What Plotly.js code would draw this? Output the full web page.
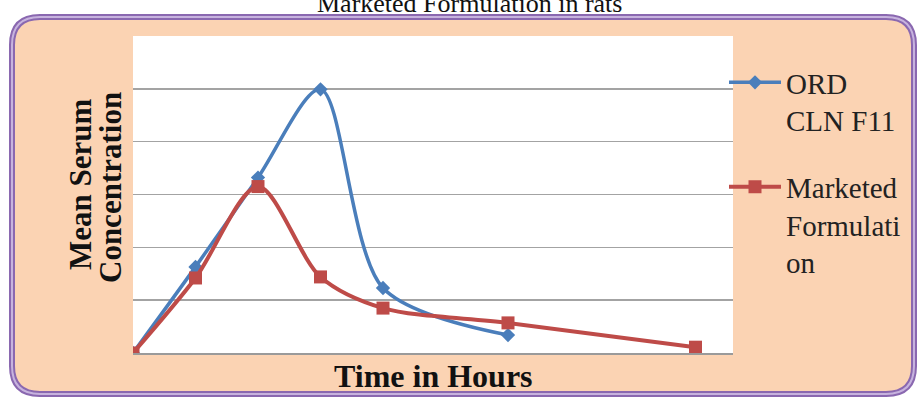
<!DOCTYPE html>
<html>
<head>
<meta charset="utf-8">
<script src="https://cdn.plot.ly/plotly-3.0.1.min.js"></script>
<style>
  html, body { margin: 0; padding: 0; background: #ffffff; }
  #chart { width: 920px; height: 397px; }
  /* keep the legend entries in the same serif face as the rest of the chart */
  #chart .legendtext, #chart .legendtext tspan {
    font-family: "Liberation Serif", "Times New Roman", serif !important;
  }
</style>
</head>
<body>
<div id="chart"></div>
<script>
// Sampling times (hours) and mean serum concentrations
const hoursOrd = [0, 1, 2, 3, 4, 6];
const ordCln = [0, 1.63, 3.32, 4.99, 1.23, 0.34];
const hoursMarketed = [0, 1, 2, 3, 4, 6, 9];
const marketed = [0, 1.42, 3.15, 1.44, 0.85, 0.57, 0.11];
const seriesNames = ['ORD<br>CLN F11', 'Marketed<br>Formulati<br>on'];
const chartTitle = 'Marketed Formulation in rats';
const xTitle = 'Time in Hours';
const yTitleLines = ['Mean Serum', 'Concentration'];

const W = 920, H = 397;
const M = { l: 133, r: 187, t: 36, b: 44 };
const PW = W - M.l - M.r, PH = H - M.t - M.b;

// pixel -> paper helpers for the framing shapes and free text
const px = x => +((x - M.l) / PW).toFixed(5);
const py = y => +((H - M.b - y) / PH).toFixed(5);

function roundedRect(L, T, R, B, r) {
  return 'M' + px(L + r) + ',' + py(T) +
    ' L' + px(R - r) + ',' + py(T) +
    ' Q' + px(R) + ',' + py(T) + ' ' + px(R) + ',' + py(T + r) +
    ' L' + px(R) + ',' + py(B - r) +
    ' Q' + px(R) + ',' + py(B) + ' ' + px(R - r) + ',' + py(B) +
    ' L' + px(L + r) + ',' + py(B) +
    ' Q' + px(L) + ',' + py(B) + ' ' + px(L) + ',' + py(B - r) +
    ' L' + px(L) + ',' + py(T + r) +
    ' Q' + px(L) + ',' + py(T) + ' ' + px(L + r) + ',' + py(T) + ' Z';
}

const framePath = roundedRect(12, 17, 914, 394, 28);

const serif = 'Times New Roman';

const traces = [
  {
    x: hoursOrd, y: ordCln, name: seriesNames[0],
    type: 'scatter', mode: 'lines+markers',
    line: { color: '#4A7EBB', width: 3.5, shape: 'spline', smoothing: 0.85 },
    marker: { symbol: 'diamond', size: 11, color: '#4A7EBB' },
    legendgroup: 'a'
  },
  {
    x: hoursMarketed, y: marketed, name: seriesNames[1],
    type: 'scatter', mode: 'lines+markers',
    line: { color: '#BE4B48', width: 4, shape: 'spline', smoothing: 0.85 },
    marker: { symbol: 'square', size: 13, color: '#BE4B48' },
    legendgroup: 'b'
  }
];

const layout = {
  width: W, height: H,
  margin: M,
  paper_bgcolor: '#ffffff',
  plot_bgcolor: '#ffffff',
  font: { family: serif, color: '#1a1a1a' },
  xaxis: {
    range: [0, 9.6], showticklabels: false, ticks: '',
    showgrid: false, zeroline: false,
    showline: true, linecolor: '#9a9a9a', linewidth: 1.5
  },
  yaxis: {
    range: [0, 6], dtick: 1, showticklabels: false, ticks: '',
    showgrid: true, gridcolor: '#a3a3a3', gridwidth: 1.5,
    zeroline: false, showline: false
  },
  showlegend: true,
  legend: {
    x: px(724), xanchor: 'left', y: py(57), yanchor: 'top',
    bgcolor: 'rgba(0,0,0,0)', valign: 'top',
    font: { family: serif, size: 29, color: '#222222' },
    tracegroupgap: 26, itemwidth: 52
  },
  annotations: [
    {
      text: chartTitle, xref: 'paper', yref: 'paper',
      x: px(469), y: py(3), xanchor: 'center', yanchor: 'middle',
      showarrow: false, font: { family: serif, size: 26, color: '#111111' }
    },
    {
      text: '<b>' + xTitle + '</b>', xref: 'paper', yref: 'paper',
      x: px(433), y: py(376), xanchor: 'center', yanchor: 'middle',
      showarrow: false, font: { family: serif, size: 32, color: '#111111' }
    },
    {
      text: '<b>' + yTitleLines[0] + '</b>', xref: 'paper', yref: 'paper',
      x: px(80), y: py(184), xanchor: 'center', yanchor: 'middle',
      textangle: -90, showarrow: false,
      font: { family: serif, size: 31, color: '#111111' }
    },
    {
      text: '<b>' + yTitleLines[1] + '</b>', xref: 'paper', yref: 'paper',
      x: px(110), y: py(188), xanchor: 'center', yanchor: 'middle',
      textangle: -90, showarrow: false,
      font: { family: serif, size: 31, color: '#111111' }
    }
  ],
  shapes: [
    // peach panel with purple rounded frame
    { type: 'path', xref: 'paper', yref: 'paper', layer: 'below',
      path: framePath, fillcolor: '#FBD3B3',
      line: { color: '#8A68B0', width: 6 } },
    { type: 'path', xref: 'paper', yref: 'paper', layer: 'below',
      path: framePath, fillcolor: 'rgba(0,0,0,0)',
      line: { color: '#C7B3DE', width: 2 } },
    // white plotting area
    { type: 'rect', xref: 'paper', yref: 'paper', layer: 'below',
      x0: 0, x1: 1, y0: 0, y1: 1, fillcolor: '#ffffff',
      line: { width: 0 } }
  ]
};

Plotly.newPlot('chart', traces, layout, { displayModeBar: false, staticPlot: true });
</script>
</body>
</html>
